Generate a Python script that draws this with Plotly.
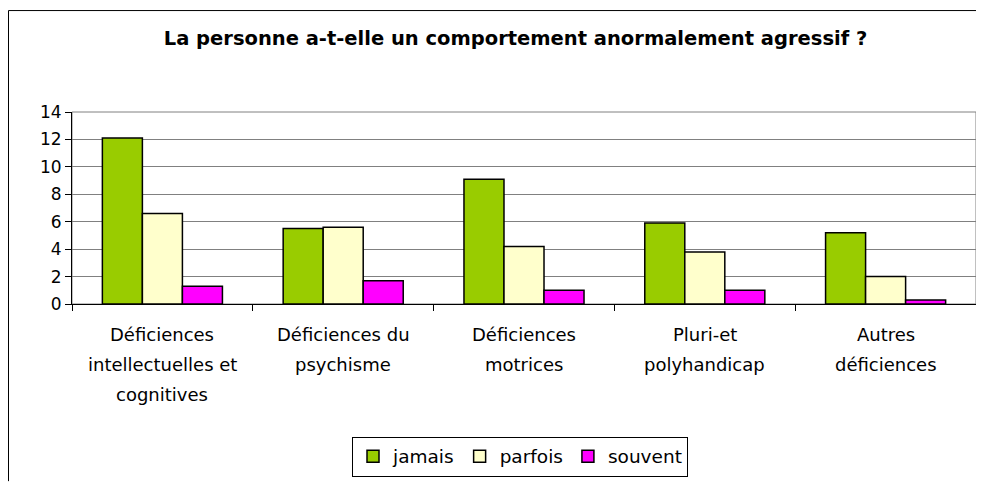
import plotly.graph_objects as go

categories = [
    "Déficiences<br>intellectuelles et<br>cognitives",
    "Déficiences du<br>psychisme",
    "Déficiences<br>motrices",
    "Pluri-et<br>polyhandicap",
    "Autres<br>déficiences",
]
series_names = ["jamais", "parfois", "souvent"]
jamais = [12.1, 5.5, 9.1, 5.9, 5.2]
parfois = [6.6, 5.6, 4.2, 3.8, 2.0]
souvent = [1.3, 1.7, 1.0, 1.0, 0.3]
colors = ["#99CC00", "#FFFFCC", "#FF00FF"]
y_ticks = [0, 2, 4, 6, 8, 10, 12, 14]
title_text = "La personne a-t-elle un comportement anormalement agressif ?"

FONT = "DejaVu Sans"
OFF = 8  # page body margin
W, H = 984 - OFF, 485 - OFF

fig = go.Figure()
for name, vals, col in zip(series_names, [jamais, parfois, souvent], colors):
    fig.add_trace(go.Bar(
        x=categories, y=vals, name=name,
        marker=dict(color=col, line=dict(color="black", width=1.5)),
    ))

plot_left, plot_right = 72 - OFF, 976 - OFF
plot_top, plot_bot = 112 - OFF, 306 - OFF
ph = plot_bot - plot_top
pw = plot_right - plot_left

line_py = [337 - OFF, 367 - OFF, 397 - OFF]
annotations = []
for cat in categories:
    for i, line in enumerate(cat.split("<br>")):
        annotations.append(dict(
            x=cat, xref="x", y=(plot_bot - line_py[i]) / ph, yref="paper",
            text=line, showarrow=False, xanchor="center", yanchor="middle",
            font=dict(family=FONT, size=18, color="black"),
        ))

fig.update_layout(
    width=W, height=H,
    margin=dict(l=plot_left, r=W - plot_right, t=plot_top, b=H - plot_bot),
    paper_bgcolor="white", plot_bgcolor="white",
    barmode="group", bargap=0.336, bargroupgap=0,
    title=dict(text="<b>" + title_text + "</b>", x=(515.5 - OFF) / W, xref="container",
               y=1 - (38 - OFF) / H, yref="container", xanchor="center", yanchor="middle",
               font=dict(family=FONT, size=19.5, color="black")),
    font=dict(family=FONT, color="black"),
    xaxis=dict(showticklabels=False, ticks="outside", tickson="boundaries",
               ticklen=6, tickcolor="black", showline=True, linecolor="black",
               linewidth=1, showgrid=False),
    yaxis=dict(range=[0, 14], tickvals=y_ticks, ticks="outside", ticklen=6,
               tickcolor="black", showline=True, linecolor="black", linewidth=1,
               showgrid=True, gridcolor="#808080", gridwidth=1,
               tickfont=dict(family=FONT, size=17, color="black"), zeroline=False),
    legend=dict(orientation="h", x=(520 - 72) / 904, xanchor="center",
                y=(plot_bot - (440 - OFF)) / ph, yanchor="top",
                bordercolor="black", borderwidth=1, itemwidth=30,
                font=dict(family=FONT, size=18.5, color="black"),
                itemclick=False, traceorder="normal"),
    annotations=annotations,
    shapes=[
        dict(type="rect", xref="paper", yref="paper", x0=0, x1=1, y0=0, y1=1,
             line=dict(color="#808080", width=1), layer="below"),
        dict(type="line", xref="paper", yref="paper",
             x0=(0.5 - plot_left) / pw, x1=(0.5 - plot_left) / pw,
             y0=(plot_bot - H) / ph, y1=(plot_bot - 1.5) / ph,
             line=dict(color="black", width=1), layer="below"),
        dict(type="line", xref="paper", yref="paper",
             x0=(0.5 - plot_left) / pw, x1=(W - plot_left) / pw,
             y0=(plot_bot - 1.5) / ph, y1=(plot_bot - 1.5) / ph,
             line=dict(color="black", width=1), layer="below"),
    ],
)

fig.write_html("out.html")
